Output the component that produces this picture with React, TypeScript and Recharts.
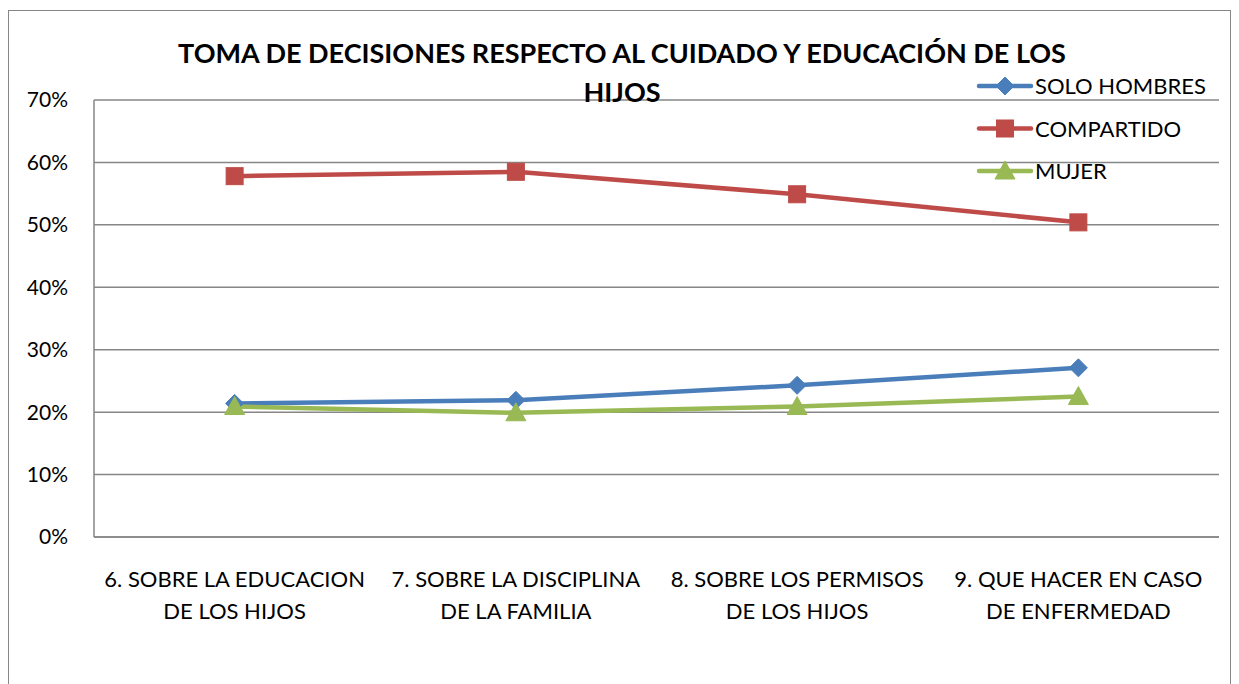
import { CartesianGrid, Line, LineChart, XAxis, YAxis } from 'recharts';

const categories = [
  '6. SOBRE LA EDUCACION|DE LOS HIJOS',
  '7. SOBRE LA DISCIPLINA|DE LA FAMILIA',
  '8. SOBRE LOS PERMISOS|DE LOS HIJOS',
  '9. QUE HACER EN CASO|DE ENFERMEDAD',
];
const soloHombres = [0.214, 0.219, 0.243, 0.271];
const compartido = [0.578, 0.585, 0.549, 0.504];
const mujer = [0.209, 0.199, 0.209, 0.225];
const yTicks = [0, 0.1, 0.2, 0.3, 0.4, 0.5, 0.6, 0.7];

const data = categories.map((name, i) => ({
  name,
  soloHombres: soloHombres[i],
  compartido: compartido[i],
  mujer: mujer[i],
}));

const FONT = 'Lato, "Open Sans", sans-serif';
const GRID = '#868686';
const BLUE = '#4A7EBB';
const RED = '#BE4B48';
const GREEN = '#98B954';

function Diamond({ cx, cy }: any) {
  if (cx == null || cy == null) return null;
  const r = 9;
  return <path d={`M${cx},${cy - r}L${cx + r},${cy}L${cx},${cy + r}L${cx - r},${cy}Z`} fill={BLUE} stroke={BLUE} />;
}

function Square({ cx, cy }: any) {
  if (cx == null || cy == null) return null;
  return <rect x={cx - 8.5} y={cy - 8.5} width={17} height={17} fill={RED} stroke={RED} />;
}

function Triangle({ cx, cy }: any) {
  if (cx == null || cy == null) return null;
  return <path d={`M${cx},${cy - 10}L${cx + 10},${cy + 8}L${cx - 10},${cy + 8}Z`} fill={GREEN} stroke={GREEN} />;
}

function CategoryTick({ x, y, payload }: any) {
  const lines = String(payload.value).split('|');
  return (
    <text x={x} y={y} textAnchor="middle" fill="#000" fontSize={22} fontFamily={FONT}>
      {lines.map((l, i) => (
        <tspan key={i} x={x} dy={i === 0 ? 42 : 32}>{l}</tspan>
      ))}
    </text>
  );
}

const legendItems = [
  { label: 'SOLO HOMBRES', color: BLUE, Marker: Diamond },
  { label: 'COMPARTIDO', color: RED, Marker: Square },
  { label: 'MUJER', color: GREEN, Marker: Triangle },
];

function ChartLegend() {
  return (
    <svg width={260} height={120} style={{ position: 'absolute', left: 975, top: 71 }}>
      {legendItems.map(({ label, color, Marker }, i) => {
        const y = 15 + i * 42.5;
        return (
          <g key={label}>
            <line x1={4} x2={56} y1={y} y2={y} stroke={color} strokeWidth={4.5} strokeLinecap="round" />
            <Marker cx={30} cy={y} />
            <text x={60} y={y + 8} fontSize={22} fontFamily={FONT} fill="#000">{label}</text>
          </g>
        );
      })}
    </svg>
  );
}

export default function App() {
  return (
    <div style={{ position: 'absolute', left: 0, top: 0, width: 1239, height: 684, background: '#fff', overflow: 'hidden' }}>
      <div style={{ position: 'absolute', left: 8, top: 10, width: 1221, height: 700, border: `1px solid ${GRID}` }} />
      <LineChart width={1239} height={684} data={data} margin={{ top: 100, right: 20, bottom: 0, left: 0 }} style={{ position: 'absolute', left: 0, top: 0 }}>
        <CartesianGrid vertical={false} stroke={GRID} strokeWidth={1.5} />
        <XAxis
          dataKey="name"
          scale="band"
          axisLine={{ stroke: GRID, strokeWidth: 1.5 }}
          tickLine={false}
          tick={<CategoryTick />}
          interval={0}
          height={147}
        />
        <YAxis
          width={94}
          domain={[0, 0.7]}
          ticks={yTicks}
          tickFormatter={(v: number) => `${Math.round(v * 100)}%`}
          axisLine={{ stroke: GRID, strokeWidth: 1.5 }}
          tickLine={false}
          tickSize={0}
          tickMargin={26}
          tick={{ fill: '#000', fontSize: 21, fontFamily: FONT }}
        />
        <Line dataKey="soloHombres" name="SOLO HOMBRES" stroke={BLUE} strokeWidth={4.5} dot={<Diamond />} isAnimationActive={false} />
        <Line dataKey="compartido" name="COMPARTIDO" stroke={RED} strokeWidth={4.5} dot={<Square />} isAnimationActive={false} />
        <Line dataKey="mujer" name="MUJER" stroke={GREEN} strokeWidth={4.5} dot={<Triangle />} isAnimationActive={false} />
      </LineChart>
      <div
        style={{
          position: 'absolute', left: 122, top: 33, width: 1000, textAlign: 'center',
          fontFamily: FONT, fontWeight: 700, fontSize: 27, lineHeight: '39px', color: '#000',
        }}
      >
        TOMA DE DECISIONES RESPECTO AL CUIDADO Y EDUCACIÓN DE LOS
        <br />
        HIJOS
      </div>
      <ChartLegend />
    </div>
  );
}
